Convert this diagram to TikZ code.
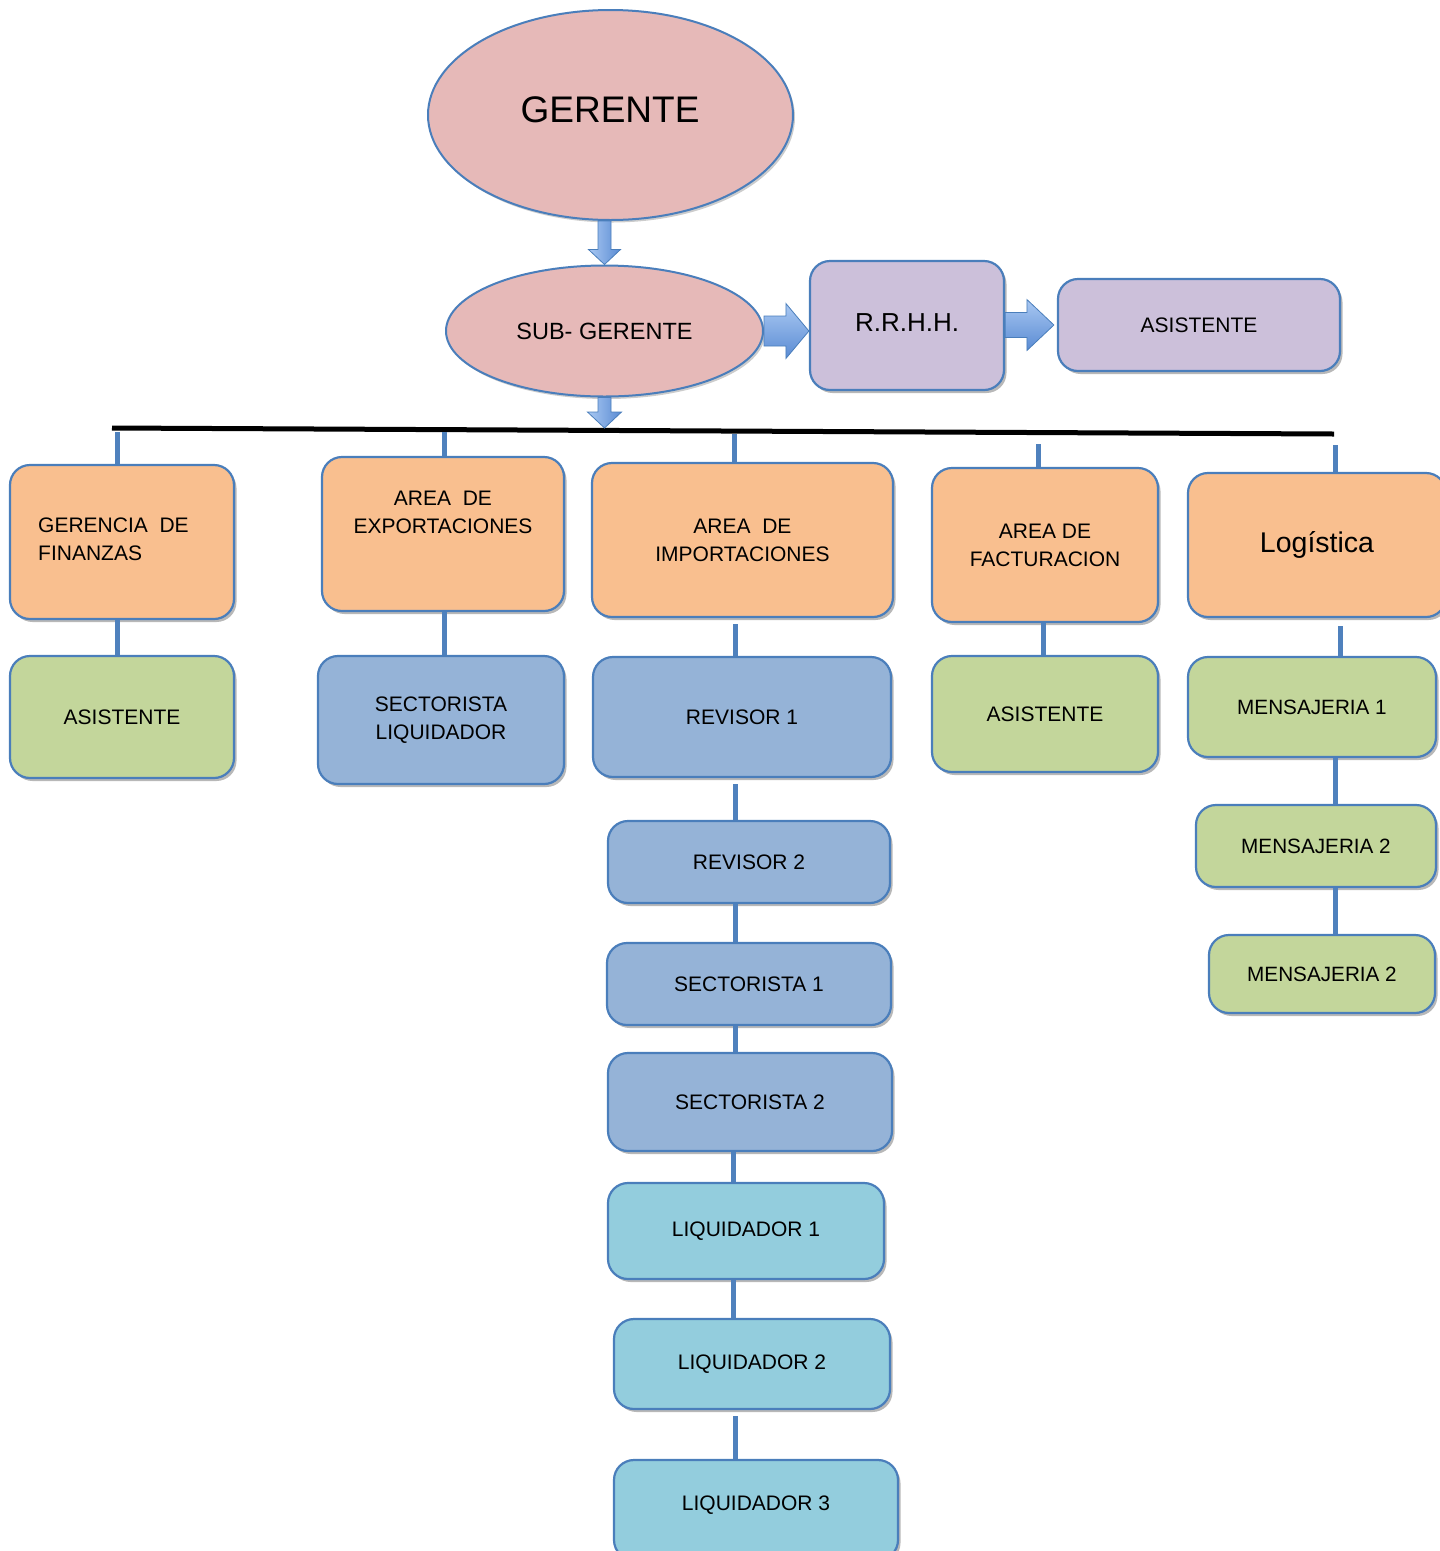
\documentclass[tikz,border=0pt]{standalone}
\usepackage{fontspec}
\setmainfont{Liberation Sans}
\usetikzlibrary{shapes.geometric,shadows,calc}
\definecolor{bord}{HTML}{4A7EBB}
\definecolor{connc}{HTML}{4F81BD}
\definecolor{pinkf}{HTML}{E6B9B8}
\definecolor{purpf}{HTML}{CCC0DA}
\definecolor{orf}{HTML}{F9BF8F}
\definecolor{grf}{HTML}{C3D69B}
\definecolor{blf}{HTML}{95B3D7}
\definecolor{cyf}{HTML}{93CDDD}
\definecolor{arlight}{HTML}{A9C8F2}
\definecolor{ardark}{HTML}{5A8BD3}
\tikzset{
  box/.style={draw=bord, line width=2.2pt, rounded corners=20pt, inner sep=0pt,
    align=center, font=\fontsize{21}{28}\selectfont,
    drop shadow={shadow xshift=2.5pt, shadow yshift=-3pt, opacity=.28, fill=black}},
  oval/.style={ellipse, draw=bord, line width=2pt, fill=pinkf, inner sep=0pt,
    drop shadow={shadow xshift=2pt, shadow yshift=-2.5pt, opacity=.2, fill=black}},
  conn/.style={draw=connc, line width=5pt},
  barrowv/.style={draw=bord, line width=0.8pt, left color=arlight, right color=ardark},
  barrowh/.style={draw=bord, line width=0.8pt, top color=arlight, bottom color=ardark},
  txt/.style={inner sep=0pt, align=center, font=\fontsize{21}{28}\selectfont}
}
\begin{document}
\begin{tikzpicture}[x=1pt,y=-1pt]
\useasboundingbox (0,0) rectangle (1440,1551);
\clip (0,0) rectangle (1440,1551);

% ellipses
\node[oval, minimum width=365pt, minimum height=210pt] (g) at (610.5,115) {};
\node[inner sep=0pt, font=\fontsize{37}{44}\selectfont] (gT) at (610,110) {GERENTE};
\node[oval, minimum width=317pt, minimum height=131pt, font=\fontsize{23.5}{28}\selectfont] (sg) at (604.5,331) {SUB- GERENTE};

% purple
\node[box, fill=purpf, minimum width=194pt, minimum height=129pt] (rh) at (907,325.5) {};
\node[inner sep=0pt, font=\fontsize{26}{30}\selectfont] (rhT) at (907,323) {R.R.H.H.};
\node[box, fill=purpf, minimum width=282pt, minimum height=92pt] (ra) at (1199,325) {ASISTENTE};

% orange row
\node[box, fill=orf, minimum width=224pt, minimum height=154pt] (fin) at (122,542) {};
\node[txt, anchor=west, align=left] (finT) at (38,539) {GERENCIA\ \ DE\\FINANZAS};
\node[box, fill=orf, minimum width=242pt, minimum height=154pt] (exp) at (443,534) {};
\node[txt] (expT) at (443,512) {AREA\ \ DE\\EXPORTACIONES};
\node[box, fill=orf, minimum width=301pt, minimum height=154pt] (imp) at (742.5,540) {AREA\ \ DE\\IMPORTACIONES};
\node[box, fill=orf, minimum width=226pt, minimum height=154pt] (fac) at (1045,545) {AREA DE\\FACTURACION};
\node[box, fill=orf, minimum width=258pt, minimum height=144pt, font=\fontsize{28.5}{34}\selectfont] (log) at (1317,545) {Logística};

% second row
\node[box, fill=grf, minimum width=224pt, minimum height=122pt] (fa) at (122,717) {ASISTENTE};
\node[box, fill=blf, minimum width=246pt, minimum height=128pt] (sl) at (441,720) {SECTORISTA\\LIQUIDADOR};
\node[box, fill=blf, minimum width=298pt, minimum height=120pt] (r1) at (742,717) {REVISOR 1};
\node[box, fill=grf, minimum width=226pt, minimum height=116pt] (fa2) at (1045,714) {ASISTENTE};
\node[box, fill=grf, minimum width=248pt, minimum height=100pt, font=\fontsize{20.7}{24}\selectfont] (m1) at (1312,707) {MENSAJERIA 1};

% import column
\node[box, fill=blf, minimum width=282pt, minimum height=82pt] (r2) at (749,862) {REVISOR 2};
\node[box, fill=blf, minimum width=284pt, minimum height=82pt] (s1) at (749,984) {SECTORISTA 1};
\node[box, fill=blf, minimum width=284pt, minimum height=98pt] (s2) at (750,1102) {SECTORISTA 2};
\node[box, fill=cyf, minimum width=276pt, minimum height=96pt] (l1) at (746,1231) {LIQUIDADOR 1};
\node[box, fill=cyf, minimum width=276pt, minimum height=90pt] (l2) at (752,1364) {LIQUIDADOR 2};
\node[box, fill=cyf, minimum width=284pt, minimum height=100pt] (l3) at (756,1510) {};
\node[txt] (l3T) at (756,1505) {LIQUIDADOR 3};

% logistics column
\node[box, fill=grf, minimum width=240pt, minimum height=82pt, font=\fontsize{20.7}{24}\selectfont] (m2) at (1316,846) {MENSAJERIA 2};
\node[box, fill=grf, minimum width=226pt, minimum height=78pt, font=\fontsize{20.7}{24}\selectfont] (m3) at (1322,974) {MENSAJERIA 2};

% horizontal bar
\coordinate (hl) at (112,428);
\coordinate (hr) at (1334,434);
\draw[black, line width=5pt] (hl) -- (hr);

% drops from bar
\coordinate (t1) at (117,432);
\coordinate (t2) at (444,432);
\coordinate (t3) at (734,434);
\coordinate (t4) at (1038,444);
\coordinate (t5) at (1335,445);
\draw[conn] (t1) -- (t1 |- fin.north);
\draw[conn] (t2) -- (t2 |- exp.north);
\draw[conn] (t3) -- (t3 |- imp.north);
\draw[conn] (t4) -- (t4 |- fac.north);
\draw[conn] (t5) -- (t5 |- log.north);

% vertical connectors
\coordinate (xa) at (735,0);
\coordinate (xb) at (733,0);
\coordinate (xf) at (1043,0);
\coordinate (xl) at (1340,0);
\coordinate (xm) at (1335,0);
\draw[conn] (fin.south -| t1) -- (fa.north -| t1);
\draw[conn] (exp.south -| t2) -- (sl.north -| t2);
\draw[conn] ([yshift=-6pt]imp.south -| xa) -- (r1.north -| xa);
\draw[conn] ([yshift=-6pt]r1.south -| xa) -- (r2.north -| xa);
\draw[conn] (r2.south -| xa) -- (s1.north -| xa);
\draw[conn] (s1.south -| xa) -- (s2.north -| xa);
\draw[conn] (s2.south -| xb) -- (l1.north -| xb);
\draw[conn] (l1.south -| xb) -- (l2.north -| xb);
\draw[conn] ([yshift=-6pt]l2.south -| xa) -- (l3.north -| xa);
\draw[conn] (fac.south -| xf) -- (fa2.north -| xf);
\draw[conn] ([yshift=-8pt]log.south -| xl) -- (m1.north -| xl);
\draw[conn] (m1.south -| xm) -- (m2.north -| xm);
\draw[conn] (m2.south -| xm) -- (m3.north -| xm);

% block arrows
\path[barrowv] let \p1=(g.south), \p2=(sg.north) in
  (\x2-6.5pt,\y1) -- (\x2+6.5pt,\y1) -- (\x2+6.5pt,\y2+15pt) -- (\x2+16pt,\y2+15pt)
  -- (\x2,\y2) -- (\x2-16pt,\y2+15pt) -- (\x2-6.5pt,\y2+15pt) -- cycle;
\path[barrowv] let \p1=(sg.south), \p2=(sg.south |- hl) in
  (\x1-6.5pt,\y1) -- (\x1+6.5pt,\y1) -- (\x1+6.5pt,\y2+16pt) -- (\x1+17pt,\y2+16pt)
  -- (\x1,\y2) -- (\x1-17pt,\y2+16pt) -- (\x1-6.5pt,\y2+16pt) -- cycle;
\path[barrowh] let \p1=(sg.east), \p2=(rh.west) in
  (\x1,\y1+15pt) -- (\x2-23pt,\y1+15pt) -- (\x2-23pt,\y1+27.5pt) -- (\x2,\y1)
  -- (\x2-23pt,\y1-27.5pt) -- (\x2-23pt,\y1-15pt) -- (\x1,\y1-15pt) -- cycle;
\path[barrowh] let \p1=(rh.east), \p2=(ra.west) in
  (\x1,\y2+12.5pt) -- (\x2-30pt,\y2+12.5pt) -- (\x2-30pt,\y2+25.5pt) -- (\x2-3pt,\y2)
  -- (\x2-30pt,\y2-25.5pt) -- (\x2-30pt,\y2-12.5pt) -- (\x1,\y2-12.5pt) -- cycle;
\end{tikzpicture}
\end{document}
